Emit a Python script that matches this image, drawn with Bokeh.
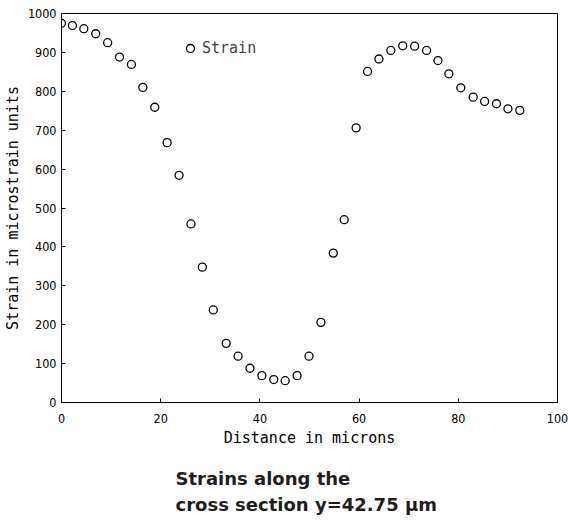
from bokeh.plotting import figure
from bokeh.models import Range1d, Legend, LegendItem, FixedTicker, Title
from bokeh.embed import file_html
from bokeh.resources import INLINE

# Data
distance = [0.0, 2.2, 4.5, 6.9, 9.3, 11.7, 14.1, 16.4, 18.8, 21.3,
            23.7, 26.1, 28.4, 30.6, 33.2, 35.6, 38.0, 40.4, 42.8, 45.1,
            47.5, 49.9, 52.3, 54.8, 57.0, 59.4, 61.7, 64.0, 66.4, 68.8,
            71.2, 73.6, 75.9, 78.1, 80.5, 83.0, 85.3, 87.7, 90.0, 92.4]
strain = [975, 969, 961, 948, 925, 888, 869, 810, 759, 668,
          584, 459, 348, 238, 152, 119, 88, 69, 59, 56,
          69, 119, 206, 384, 470, 706, 851, 883, 905, 917,
          916, 905, 879, 845, 809, 785, 774, 768, 755, 751]
x_ticks = [0, 20, 40, 60, 80, 100]
y_ticks = [0, 100, 200, 300, 400, 500, 600, 700, 800, 900, 1000]
caption_lines = ["Strains along the", "cross section y=42.75 \u00b5m"]

p = figure(width=568, height=524, frame_width=496, frame_height=389,
           min_border_left=61, min_border_right=11, min_border_top=13,
           min_border_bottom=10,
           x_range=Range1d(0, 100), y_range=Range1d(0, 1000),
           output_backend="svg", toolbar_location=None,
           background_fill_color="white", border_fill_color="white")

p.grid.visible = False
p.outline_line_color = "black"
p.outline_line_width = 1

tick_font = "DejaVu Sans Condensed"
lab_font = "DejaVu Sans Mono"

for ax, ticks in ((p.xaxis[0], x_ticks), (p.yaxis[0], y_ticks)):
    ax.ticker = FixedTicker(ticks=ticks)
    ax.major_tick_in = 4
    ax.major_tick_out = 0
    ax.minor_tick_line_color = None
    ax.axis_line_color = "black"
    ax.major_tick_line_color = "black"
    ax.major_label_text_font = tick_font
    ax.major_label_text_font_size = "12.5px"
    ax.major_label_text_color = "black"
    ax.axis_label_text_font = lab_font
    ax.axis_label_text_font_size = "15px"
    ax.axis_label_text_font_style = "normal"
    ax.axis_label_text_color = "black"

p.xaxis.axis_label = "Distance in microns"
p.yaxis.axis_label = "Strain in microstrain units"
p.xaxis.major_label_standoff = 11
p.yaxis.major_label_standoff = 5
p.xaxis.axis_label_standoff = 3
p.yaxis.axis_label_standoff = 3

r = p.scatter(distance, strain, marker="circle", size=8,
              line_color="black", line_width=1.3, fill_color=None)

legend = Legend(items=[LegendItem(label="Strain", renderers=[r])],
                location=(119, 344), padding=0, margin=0, spacing=0,
                background_fill_alpha=0, border_line_color=None,
                label_text_font=lab_font, label_text_font_size="15px",
                label_standoff=2, glyph_width=20, glyph_height=20)
p.add_layout(legend, "center")

caption = Title(text="\n".join(caption_lines), align="left", offset=114,
                text_font="DejaVu Sans", text_font_style="bold",
                text_font_size="18px", text_color="#1e1e1e",
                text_line_height=1.25, standoff=33)
p.add_layout(caption, "below")

open("out.html", "w").write(file_html(p, INLINE))
